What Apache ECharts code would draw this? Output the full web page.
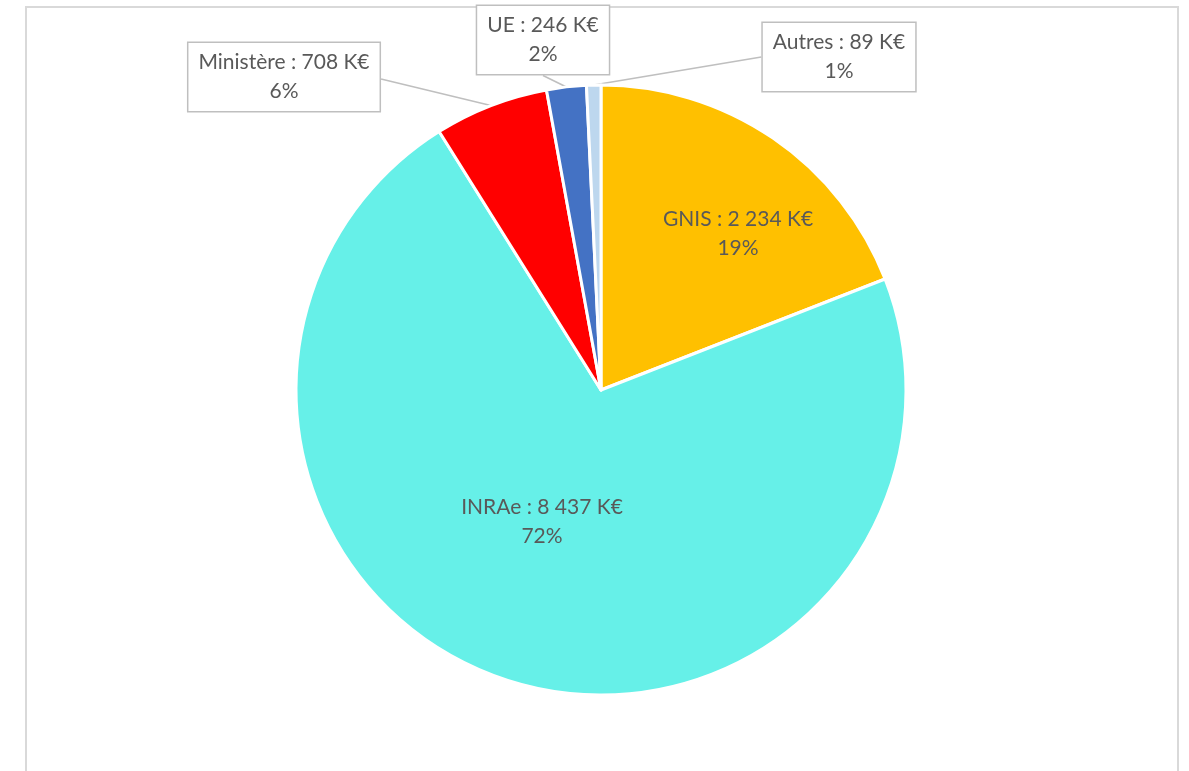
<!DOCTYPE html>
<html>
<head>
<meta charset="utf-8">
<script src="https://cdn.jsdelivr.net/npm/echarts@6/dist/echarts.min.js"></script>
<style>
  html, body { margin: 0; padding: 0; background: #fff; }
  #chartPie { width: 1189px; height: 771px; }
</style>
</head>
<body>
<div id="chartPie"></div>
<script>
// financements (K€)
var categories = ['GNIS', 'INRAe', 'Ministère', 'UE', 'Autres'];
var values = [2234, 8437, 708, 246, 89];
var percents = ['19%', '72%', '6%', '2%', '1%'];
var colors = ['#FFC000', '#66F0E8', '#FF0000', '#4472C4', '#BDD7EE'];

function fmtK(v) {
  return String(v).replace(/\B(?=(\d{3})+(?!\d))/g, ' ') + ' K€';
}

var chart = echarts.init(document.getElementById('chartPie'));

// where Excel put the label boxes
var labelSpots = [
  { x: 738, y: 234, inside: true },
  { x: 542, y: 522, inside: true },
  { x: 284, y: 77, end: 'right' },
  { x: 543, y: 40, end: 'bottom' },
  { x: 839, y: 57, end: 'left' }
];

var pieData = categories.map(function (name, i) {
  var spot = labelSpots[i];
  return {
    name: name,
    value: values[i],
    itemStyle: { color: colors[i] },
    label: spot.inside ? {
      backgroundColor: 'transparent', borderWidth: 0
    } : {},
    labelLine: { show: !spot.inside }
  };
});

chart.setOption({
  animation: false,
  graphic: [{
    type: 'rect',
    shape: { x: 26, y: 7, width: 1152, height: 800 },
    style: { fill: 'none', stroke: '#d9d9d9', lineWidth: 2 },
    silent: true
  }],
  series: [{
    type: 'pie',
    center: [601, 390],
    radius: 305,
    startAngle: 90,
    clockwise: true,
    avoidLabelOverlap: false,
    itemStyle: { borderColor: '#fff', borderWidth: 3 },
    label: {
      show: true,
      position: 'outside',
      formatter: function (p) {
        return p.name + ' : ' + fmtK(p.value) + '\n' + percents[p.dataIndex];
      },
      color: '#595959',
      fontFamily: 'Lato, "Open Sans", sans-serif',
      fontSize: 21,
      lineHeight: 29,
      align: 'center',
      backgroundColor: '#fff',
      borderColor: '#bfbfbf',
      borderWidth: 1.5,
      padding: [5, 10]
    },
    labelLine: {
      show: true,
      lineStyle: { color: '#bfbfbf', width: 1.5 }
    },
    labelLayout: function (params) {
      var spot = labelSpots[params.dataIndex];
      var out = { x: spot.x, y: spot.y, align: 'center', verticalAlign: 'middle' };
      if (!spot.inside && params.labelLinePoints) {
        var r = params.labelRect;
        var p0 = params.labelLinePoints[0];
        var end;
        if (spot.end === 'right') end = [spot.x + r.width / 2, spot.y + 2];
        else if (spot.end === 'left') end = [spot.x - r.width / 2, spot.y];
        else end = [spot.x, spot.y + r.height / 2];
        out.labelLinePoints = [p0, p0, end];
      }
      return out;
    },
    data: pieData
  }]
});
</script>
</body>
</html>
